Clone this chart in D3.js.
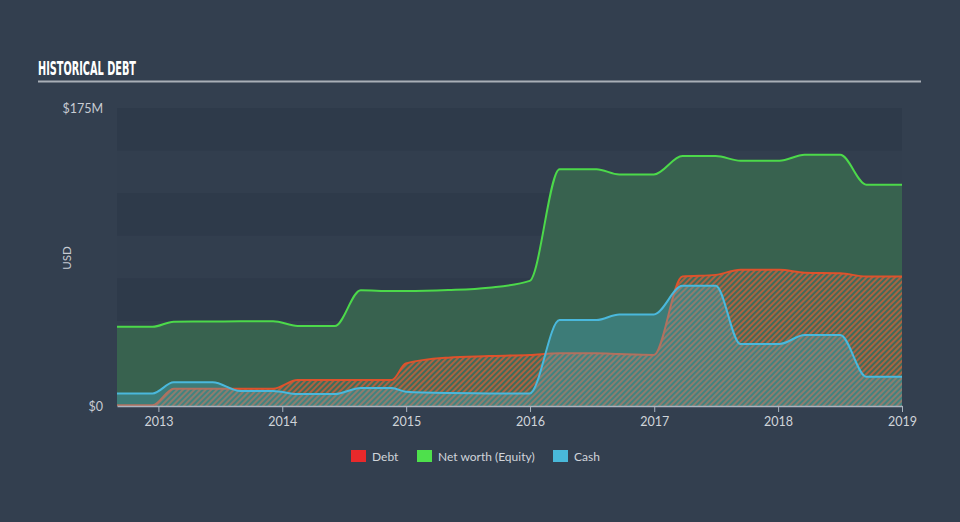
<!DOCTYPE html>
<html>
<head>
<meta charset="utf-8">
<script src="https://cdn.jsdelivr.net/npm/d3@7"></script>
<style>
  html, body { margin: 0; padding: 0; background: #333f4f; }
  svg { display: block; }
</style>
</head>
<body>
<svg id="chart" width="960" height="522"></svg>
<script>
// ---- data (values in $M) ----
const dates = ["2012-09-01","2012-12-15","2013-02-15","2013-06-10","2013-08-30","2013-12-05",
  "2014-02-15","2014-06-05","2014-08-20","2014-11-20","2014-12-31","2015-05-05","2015-09-01",
  "2015-12-31","2016-03-28","2016-07-15","2016-09-20","2016-12-31","2017-03-25","2017-07-01",
  "2017-09-12","2018-01-05","2018-03-20","2018-07-03","2018-09-18","2019-01-01"];
const equity = [46.5,46.5,49.5,49.6,49.8,49.8,47,47,68,67.5,67.5,68.1,69.5,73.5,139,139,136,136,146.8,146.8,144,144,147.5,147.5,130,130];
const debt   = [0.5,0.5,10.2,10.2,10.2,10.2,15.3,15.3,15.3,15.3,25,28.4,29.3,30,31,31,30.5,30,76,77,80,80,78.3,78,76,76];
const cash   = [7.4,7.4,13.9,13.9,8.8,8.8,7,7,10.6,10.6,8.4,7.6,7.4,7.4,50.5,50.5,53.8,53.8,70.6,70.6,36.4,36.4,41.7,41.7,17.2,17.2];
const yTickValues = [0, 175];
const yTickLabels = ["$0", "$175M"];
const xTickYears = [2013, 2014, 2015, 2016, 2017, 2018, 2019];
const legendLabels = ["Debt", "Net worth (Equity)", "Cash"];
const legendColors = ["#e8292b", "#4ee04c", "#49b8d9"];

(function () {
// ---- layout ----
const svg = d3.select("#chart");
const W = 960, H = 522;
const pLeft = 117, pRight = 902, pTop = 108, pBottom = 406;
const font = "Lato, 'Open Sans', sans-serif";

svg.append("rect").attr("width", W).attr("height", H).attr("fill", "#333f4f");

const parse = d3.timeParse("%Y-%m-%d");
const D = dates.map(parse);
const x = d3.scaleTime().domain([parse("2012-09-01"), parse("2019-01-01")]).range([pLeft, pRight]);
const y = d3.scaleLinear().domain([0, 175]).range([pBottom, pTop]);

// background bands
const bandEdges = d3.range(0, 176, 25);
for (let i = 0; i < 7; i++) {
  svg.append("rect")
    .attr("x", pLeft).attr("width", pRight - pLeft)
    .attr("y", y(bandEdges[i + 1])).attr("height", y(bandEdges[i]) - y(bandEdges[i + 1]))
    .attr("fill", i % 2 === 0 ? "#2e3a4a" : "#323e4e");
}

// title
svg.append("text").attr("x", 38).attr("y", 74.5)
  .attr("font-family", "'DejaVu Sans Condensed', 'DejaVu Sans', sans-serif")
  .attr("font-weight", "bold").attr("font-size", 20).attr("fill", "#ffffff")
  .attr("textLength", 98).attr("lengthAdjust", "spacingAndGlyphs")
  .text("HISTORICAL DEBT");
svg.append("line").attr("x1", 38).attr("x2", 921).attr("y1", 81.5).attr("y2", 81.5)
  .attr("stroke", "#a9afb7").attr("stroke-width", 2);

// defs: hatch + clip
const defs = svg.append("defs");
const pat = defs.append("pattern").attr("id", "hatch").attr("patternUnits", "userSpaceOnUse")
  .attr("width", 4).attr("height", 4).attr("patternTransform", "rotate(45)");
pat.append("rect").attr("width", 4).attr("height", 4).attr("fill", "#3e6c5a");
pat.append("line").attr("x1", 1).attr("y1", 0).attr("x2", 1).attr("y2", 4)
  .attr("stroke", "#ad6241").attr("stroke-width", 2);
defs.append("clipPath").attr("id", "plotclip").append("rect")
  .attr("x", pLeft).attr("y", pTop - 5).attr("width", pRight - pLeft).attr("height", pBottom - pTop + 5);

const g = svg.append("g").attr("clip-path", "url(#plotclip)");
const curve = d3.curveMonotoneX;
const area = vals => d3.area().curve(curve).x((d, i) => x(D[i])).y0(y(0)).y1(d => y(d))(vals);
const line = vals => d3.line().curve(curve).x((d, i) => x(D[i])).y(d => y(d))(vals);

g.append("path").attr("d", area(equity)).attr("fill", "#38624f");
g.append("path").attr("d", line(equity)).attr("fill", "none").attr("stroke", "#4cd94a").attr("stroke-width", 2);
g.append("path").attr("d", area(debt)).attr("fill", "url(#hatch)");
g.append("path").attr("d", line(debt)).attr("fill", "none").attr("stroke", "#de522c").attr("stroke-width", 2);
g.append("path").attr("d", area(cash)).attr("fill", "rgba(74,184,216,0.3)");
g.append("path").attr("d", line(cash)).attr("fill", "none").attr("stroke", "#4ab8dc").attr("stroke-width", 2);

// x axis
const xAxis = d3.axisBottom(x)
  .tickValues(xTickYears.map(yr => new Date(yr, 0, 1)))
  .tickFormat(d3.timeFormat("%Y")).tickSize(6).tickSizeOuter(0);
const ax = svg.append("g").attr("transform", `translate(0,${pBottom})`).call(xAxis);
ax.select(".domain").attr("stroke", "#aab4c0").attr("stroke-width", 1.5);
ax.selectAll(".tick line").attr("stroke", "#aab4c0");
ax.selectAll(".tick text").attr("fill", "#d0d4da").attr("font-size", 12.5)
  .attr("font-family", font).attr("dy", "0.9em");

// y labels
const yAxis = d3.axisLeft(y).tickValues(yTickValues).tickFormat((d, i) => yTickLabels[i]).tickSize(0);
const ay = svg.append("g").attr("transform", `translate(${pLeft - 14},0)`).call(yAxis);
ay.select(".domain").remove();
ay.selectAll(".tick text").attr("fill", "#c8ccd3").attr("font-size", 12.5)
  .attr("font-family", font).attr("x", 0);

svg.append("text").attr("transform", `translate(71,258) rotate(-90)`)
  .attr("text-anchor", "middle").attr("fill", "#c8ccd3").attr("font-size", 11.5)
  .attr("font-family", font).text("USD");

// legend
const legX = [351, 417, 553];
legendLabels.forEach((lab, i) => {
  svg.append("rect").attr("x", legX[i]).attr("y", 450).attr("width", 15).attr("height", 12)
    .attr("fill", legendColors[i]);
  svg.append("text").attr("x", legX[i] + 21).attr("y", 460.5).attr("fill", "#d0d4da")
    .attr("font-size", 12).attr("font-family", font).text(lab);
});
})();
</script>
</body>
</html>
